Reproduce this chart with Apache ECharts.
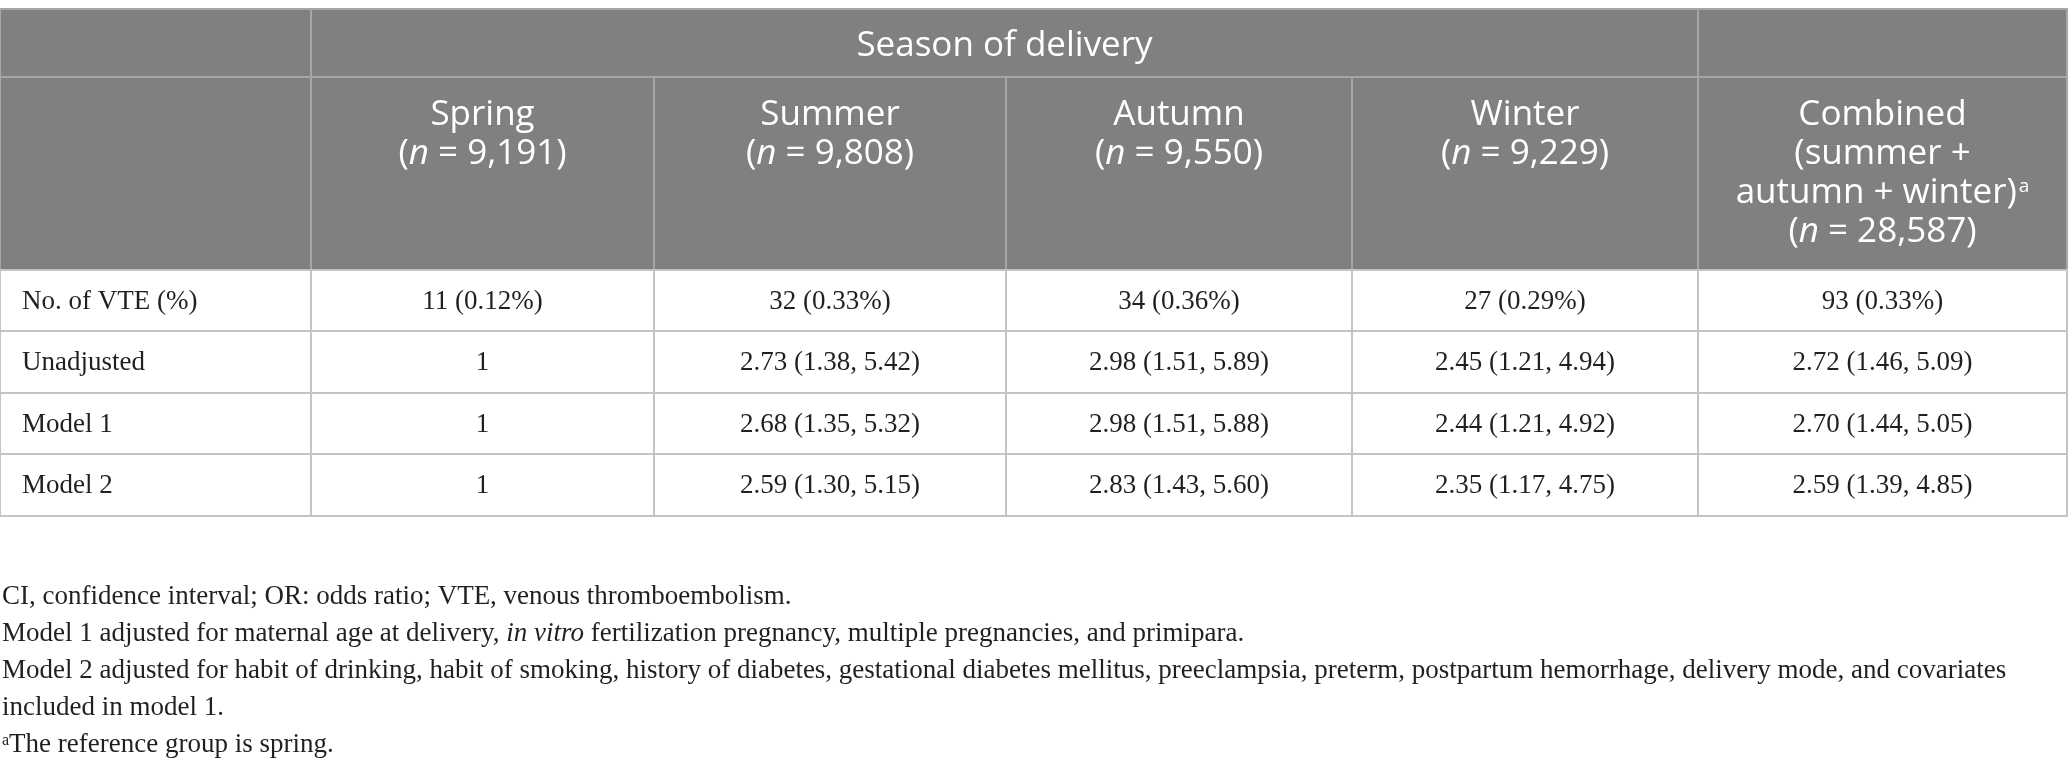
<!DOCTYPE html>
<html>
<head>
<meta charset="utf-8">
<script src="https://cdn.jsdelivr.net/npm/echarts@6/dist/echarts.min.js"></script>
<style>
  html, body { margin: 0; padding: 0; background: #fff; }
  #main { width: 2068px; height: 772px; }
</style>
</head>
<body>
<div id="main"></div>
<script>
    // table contents
    var groupTitle = 'Season of delivery';
    var seasons = ['Spring', 'Summer', 'Autumn', 'Winter'];
    var sampleSizes = ['9,191', '9,808', '9,550', '9,229'];
    var combinedN = '28,587';
    var rowLabels = ['No. of VTE (%)', 'Unadjusted', 'Model 1', 'Model 2'];
    var vteCounts = ['11 (0.12%)', '32 (0.33%)', '34 (0.36%)', '27 (0.29%)', '93 (0.33%)'];
    var unadjusted = ['1', '2.73 (1.38, 5.42)', '2.98 (1.51, 5.89)', '2.45 (1.21, 4.94)', '2.72 (1.46, 5.09)'];
    var model1 = ['1', '2.68 (1.35, 5.32)', '2.98 (1.51, 5.88)', '2.44 (1.21, 4.92)', '2.70 (1.44, 5.05)'];
    var model2 = ['1', '2.59 (1.30, 5.15)', '2.83 (1.43, 5.60)', '2.35 (1.17, 4.75)', '2.59 (1.39, 4.85)'];
    var footnotes = [
        'CI, confidence interval; OR: odds ratio; VTE, venous thromboembolism.',
        'Model 1 adjusted for maternal age at delivery, {i|in vitro} fertilization pregnancy, multiple pregnancies, and primipara.',
        'Model 2 adjusted for habit of drinking, habit of smoking, history of diabetes, gestational diabetes mellitus, preeclampsia, preterm, postpartum hemorrhage, delivery mode, and covariates',
        'included in model 1.',
        '{sup|a}The reference group is spring.'
    ];

    // layout (column / row edges, px)
    var colEdges = [0, 311, 654, 1006, 1352, 1698, 2067];
    var rowEdges = [9, 77, 270, 331, 393, 454, 516];

    var headFont = '"Open Sans", Lato, sans-serif';
    var bodyFont = '"Liberation Serif", "DejaVu Serif", serif';

    // cells: [col0, col1, row0, row1, kind, text]
    var cells = [];
    cells.push([0, 1, 0, 1, 'head1', '']);
    cells.push([1, 5, 0, 1, 'head1', groupTitle]);
    cells.push([5, 6, 0, 1, 'head1', '']);
    cells.push([0, 1, 1, 2, 'head2', '']);
    seasons.forEach(function (s, i) {
        cells.push([i + 1, i + 2, 1, 2, 'head2', s + '\n({i|n} = ' + sampleSizes[i] + ')']);
    });
    cells.push([5, 6, 1, 2, 'head2', 'Combined\n(summer +\nautumn + winter){sup|a}\n({i|n} = ' + combinedN + ')']);
    [vteCounts, unadjusted, model1, model2].forEach(function (row, r) {
        cells.push([0, 1, r + 2, r + 3, 'label', rowLabels[r]]);
        row.forEach(function (v, c) {
            cells.push([c + 1, c + 2, r + 2, r + 3, 'body', v]);
        });
    });

    function renderCell(params, api) {
        var c0 = api.value(0), c1 = api.value(1), r0 = api.value(2), r1 = api.value(3);
        var kind = cells[params.dataIndex][4];
        var text = cells[params.dataIndex][5];
        var p0 = api.coord([colEdges[c0], rowEdges[r0]]);
        var p1 = api.coord([colEdges[c1], rowEdges[r1]]);
        var x = p0[0], y = p0[1], w = p1[0] - p0[0], h = p1[1] - p0[1];
        var isHead = kind === 'head1' || kind === 'head2';
        var children = [{
            type: 'rect',
            shape: { x: x, y: y, width: w, height: h },
            style: {
                fill: isHead ? '#808080' : '#ffffff',
                stroke: isHead ? '#a6a6a6' : '#c4c4c4',
                lineWidth: 2
            }
        }];
        var ts;
        if (kind === 'head1') {
            ts = { x: x + w / 2, y: y + h / 2 + 3, align: 'center', verticalAlign: 'middle' };
        } else if (kind === 'head2') {
            ts = { x: x + w / 2, y: y + 19, align: 'center', verticalAlign: 'top' };
        } else if (kind === 'label') {
            ts = { x: x + 22, y: y + h / 2 + 1, align: 'left', verticalAlign: 'middle' };
        } else {
            ts = { x: x + w / 2, y: y + h / 2 + 1, align: 'center', verticalAlign: 'middle' };
        }
        ts.text = text;
        if (isHead) {
            ts.fill = '#ffffff';
            ts.fontSize = 35;
            ts.fontFamily = headFont;
            ts.lineHeight = 39;
            ts.rich = {
                i: { fontStyle: 'italic', fontSize: 35, fontFamily: headFont, fill: '#ffffff', lineHeight: 39 },
                sup: { fontSize: 19, fontFamily: headFont, fill: '#ffffff', lineHeight: 39, verticalAlign: 'top', padding: [3, 0, 0, 2] }
            };
        } else {
            ts.fill = '#231f20';
            ts.fontSize = 27;
            ts.fontFamily = bodyFont;
        }
        children.push({ type: 'text', style: ts, z2: 10 });
        return { type: 'group', children: children };
    }

    var chart = echarts.init(document.getElementById('main'), null, { renderer: 'canvas' });
    var option = {
        animation: false,
        grid: { left: 0, right: 0, top: 0, bottom: 0 },
        xAxis: { type: 'value', min: 0, max: 2068, show: false },
        yAxis: { type: 'value', min: 0, max: 772, inverse: true, show: false },
        graphic: footnotes.map(function (t, i) {
            return {
                type: 'text',
                left: 2,
                top: 597 - 16 + i * 37,
                style: {
                    text: t,
                    fill: '#231f20',
                    fontSize: 27,
                    fontFamily: bodyFont,
                    lineHeight: 32,
                    rich: {
                        i: { fontStyle: 'italic', fontSize: 27, fontFamily: bodyFont, fill: '#231f20', lineHeight: 32 },
                        sup: { fontSize: 16, fontFamily: bodyFont, fill: '#231f20', lineHeight: 32, verticalAlign: 'top', padding: [4, 0, 0, 0] }
                    }
                }
            };
        }),
        series: [{
            type: 'custom',
            coordinateSystem: 'cartesian2d',
            renderItem: renderCell,
            encode: { x: [0, 1], y: [2, 3] },
            data: cells.map(function (c) { return [c[0], c[1], c[2], c[3]]; }),
            silent: true
        }]
    };
    chart.setOption(option);
</script>
</body>
</html>
